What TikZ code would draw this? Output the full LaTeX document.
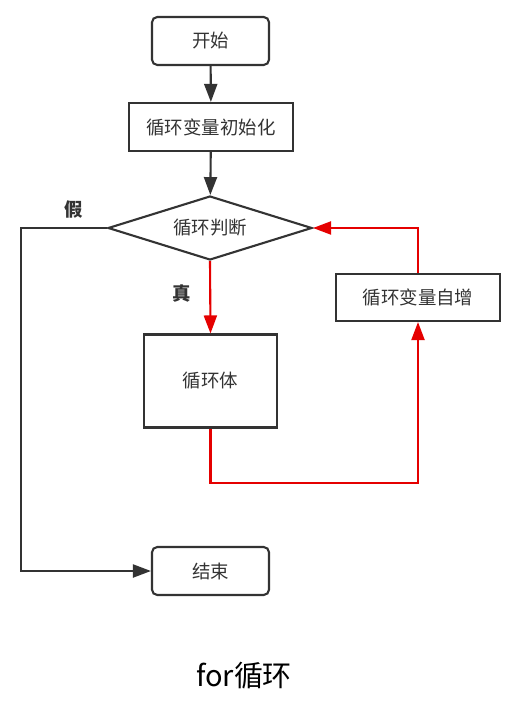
\documentclass[tikz,border=0pt]{standalone}
\usepackage{fontspec}
\setmainfont{Noto Sans CJK SC}
\usetikzlibrary{shapes.geometric,arrows.meta}

\definecolor{lineGray}{HTML}{333333}
\definecolor{loopRed}{HTML}{E50000}

\tikzset{
  box/.style={draw=lineGray,line width=1.2pt,inner sep=0pt,text=lineGray,
    font=\fontsize{10.5}{12}\selectfont},
  terminal/.style={box,rounded corners=3pt,minimum width=2.34cm,minimum height=0.96cm},
  process/.style={box,minimum height=0.96cm},
  decision/.style={box,diamond,aspect=3.19,minimum width=4.08cm,minimum height=1.28cm},
  flow/.style={draw=lineGray,line width=1.2pt,-{Triangle[length=3.6mm,width=2.6mm]}},
  redflow/.style={draw=loopRed,line width=1.2pt,-{Triangle[length=3.6mm,width=2.6mm]}},
  branch/.style={font=\fontsize{10.5}{12}\selectfont\bfseries,text=lineGray}
}

\begin{document}
\begin{tikzpicture}[x=0.02cm,y=-0.02cm]
\useasboundingbox (0,0) rectangle (511,702);

\node[terminal] (start) at (210.5,41) {开始};
\node[process,minimum width=3.28cm] (init) at (211,127) {循环变量初始化};
\node[decision] (cond) at (210,228) {循环判断};
\node[process,minimum width=2.66cm,minimum height=1.86cm] (body) at (210.5,381) {循环体};
\node[process,minimum width=3.28cm,minimum height=0.94cm] (incr) at (418,297.5) {循环变量自增};
\node[terminal] (stop) at (210.5,571) {结束};

\coordinate (falseTop) at (21,228);
\coordinate (falseBottom) at (21,571);
\coordinate (loopLow) at (418,483);

\draw[flow] (start) -- (init);
\draw[flow] (init) -- (cond);
\draw[flow] (cond.west) -- (falseTop) -- (falseBottom) -- (stop.west);
\draw[redflow] (cond.south) -- (body.north);
\draw[redflow] (body.south) |- (loopLow) -- (incr.south);
\draw[redflow] (incr.north) |- (cond.east);

\node[branch] (noLabel) at (74,210) {假};
\node[branch] (yesLabel) at (182,293) {真};

\node[font=\fontsize{16.5}{18}\selectfont] (caption) at (244,676) {for循环};

\end{tikzpicture}
\end{document}
